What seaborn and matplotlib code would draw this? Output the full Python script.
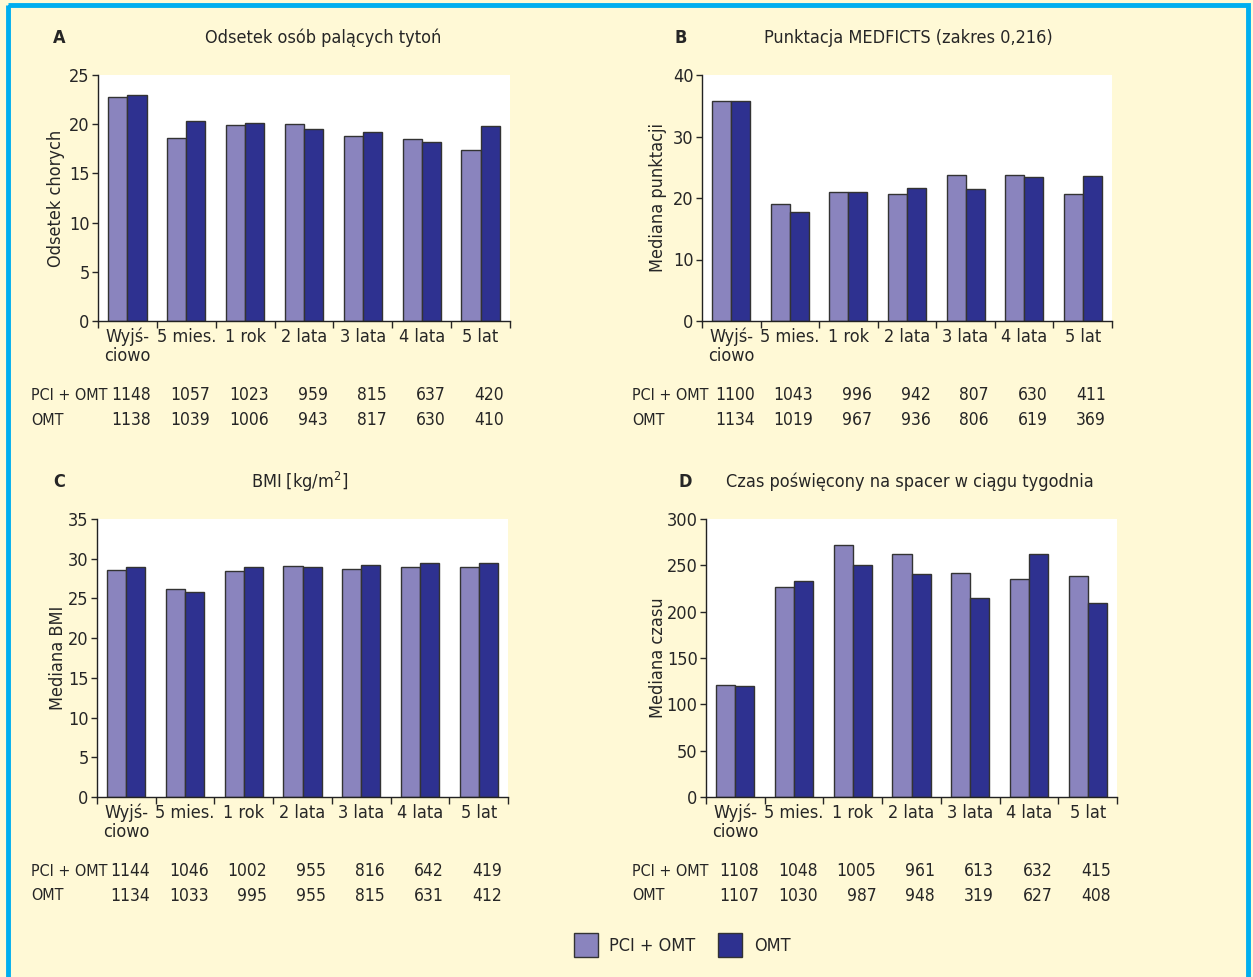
import numpy as np
import pandas as pd
import matplotlib
matplotlib.use("Agg")
import matplotlib.pyplot as plt
from matplotlib import font_manager
from matplotlib.patches import Rectangle
import seaborn as sns

# categories and groups
categories = ["Wyjś-\nciowo", "5 mies.", "1 rok", "2 lata", "3 lata", "4 lata", "5 lat"]
groups = ["PCI + OMT", "OMT"]

# A - smokers (%)
smoke_pci = [22.8, 18.6, 19.9, 20.0, 18.8, 18.5, 17.4]
smoke_omt = [23.0, 20.3, 20.1, 19.5, 19.2, 18.2, 19.8]
smoke_n_pci = [1148, 1057, 1023, 959, 815, 637, 420]
smoke_n_omt = [1138, 1039, 1006, 943, 817, 630, 410]

# B - MEDFICTS score
medf_pci = [35.7, 19.1, 20.9, 20.7, 23.8, 23.8, 20.6]
medf_omt = [35.7, 17.8, 21.0, 21.7, 21.4, 23.4, 23.5]
medf_n_pci = [1100, 1043, 996, 942, 807, 630, 411]
medf_n_omt = [1134, 1019, 967, 936, 806, 619, 369]

# C - BMI
bmi_pci = [28.6, 26.2, 28.5, 29.1, 28.7, 28.9, 28.9]
bmi_omt = [28.9, 25.8, 29.0, 29.0, 29.2, 29.4, 29.5]
bmi_n_pci = [1144, 1046, 1002, 955, 816, 642, 419]
bmi_n_omt = [1134, 1033, 995, 955, 815, 631, 412]

# D - walking time
walk_pci = [121, 227, 272, 262, 242, 235, 239]
walk_omt = [120, 233, 250, 241, 215, 262, 209]
walk_n_pci = [1108, 1048, 1005, 961, 613, 632, 415]
walk_n_omt = [1107, 1030, 987, 948, 319, 627, 408]

bg = "#FFF9D6"
col_pci = "#8A84BE"
col_omt = "#2E3190"
border = "#00AEEF"

sns.set_style("ticks")

# pick a narrow font if one is installed
names = {f.name for f in font_manager.fontManager.ttflist}
stretch = "normal"
if "Liberation Sans Narrow" in names:
    family = ["Liberation Sans Narrow", "DejaVu Sans"]
elif any(f.name == "DejaVu Sans" and f.stretch == "condensed" for f in font_manager.fontManager.ttflist):
    family = ["DejaVu Sans"]
    stretch = "condensed"
else:
    family = ["DejaVu Sans"]
plt.rcParams["font.family"] = family
plt.rcParams["font.stretch"] = stretch
fs = 13 if stretch != "normal" or family[0] != "DejaVu Sans" else 11.5

W, H = 1253, 977
fig = plt.figure(figsize=(W / 100, H / 100), dpi=100, facecolor=bg)


def px_axes(left, top, right, bottom):
    return fig.add_axes([left / W, 1 - bottom / H, (right - left) / W, (bottom - top) / H])


panels = [
    dict(letter="A", title="Odsetek osób palących tytoń", ylabel="Odsetek chorych",
         pci=smoke_pci, omt=smoke_omt, npci=smoke_n_pci, nomt=smoke_n_omt,
         ymax=25, step=5, box=(98, 75, 510, 321), lx=53, tx=323, ylx=56, rowx=31),
    dict(letter="B", title="Punktacja MEDFICTS (zakres 0,216)", ylabel="Mediana punktacji",
         pci=medf_pci, omt=medf_omt, npci=medf_n_pci, nomt=medf_n_omt,
         ymax=40, step=10, box=(702, 75, 1112, 321), lx=675, tx=908, ylx=658, rowx=632),
    dict(letter="C", title="BMI [kg/m$^2$]", ylabel="Mediana BMI",
         pci=bmi_pci, omt=bmi_omt, npci=bmi_n_pci, nomt=bmi_n_omt,
         ymax=35, step=5, box=(97, 519, 508, 797), lx=53, tx=300, ylx=58, rowx=31),
    dict(letter="D", title="Czas poświęcony na spacer w ciągu tygodnia", ylabel="Mediana czasu",
         pci=walk_pci, omt=walk_omt, npci=walk_n_pci, nomt=walk_n_omt,
         ymax=300, step=50, box=(706, 519, 1117, 797), lx=679, tx=910, ylx=658, rowx=632),
]

for p in panels:
    left, top, right, bottom = p["box"]
    ax = px_axes(left, top, right, bottom)
    df = pd.DataFrame({
        "cat": categories * 2,
        "grp": [groups[0]] * 7 + [groups[1]] * 7,
        "val": p["pci"] + p["omt"],
    })
    sns.barplot(data=df, x="cat", y="val", hue="grp", order=categories, hue_order=groups,
                palette=[col_pci, col_omt], saturation=1, width=0.65, gap=0,
                edgecolor="#333333", linewidth=1.0, legend=False, ax=ax)
    ax.set_facecolor("white")
    ax.set_xlim(-0.5, 6.5)
    ax.set_ylim(0, p["ymax"])
    ax.set_yticks(np.arange(0, p["ymax"] + 1, p["step"]))
    ax.set_xticks(np.arange(7))
    ax.set_xticklabels(categories, fontsize=fs, va="top", linespacing=1.05)
    ax.tick_params(axis="x", length=0, pad=5)
    ax.set_xticks(np.arange(-0.5, 7, 1), minor=True)
    ax.tick_params(axis="x", which="minor", length=5, width=1, direction="out")
    ax.tick_params(axis="y", labelsize=fs, length=4, width=1, pad=2)
    ax.set_xlabel("")
    ax.set_ylabel("")
    sns.despine(ax=ax, top=True, right=True)
    for s in ["left", "bottom"]:
        ax.spines[s].set_linewidth(1.0)
        ax.spines[s].set_color("#222222")

    fig.text(p["ylx"] / W, 1 - (top + bottom) / 2 / H, p["ylabel"], rotation=90,
             ha="center", va="center", fontsize=fs)
    fig.text(p["lx"] / W, 1 - (top - 37) / H, p["letter"], fontsize=fs,
             fontweight="bold", ha="left", va="center")
    fig.text(p["tx"] / W, 1 - (top - 37) / H, p["title"], fontsize=fs,
             ha="center", va="center")

    # counts table under the axis
    for row, (lab, vals) in enumerate([("PCI + OMT", p["npci"]), ("OMT", p["nomt"])]):
        ypx = bottom + 74 + row * 25
        fig.text(p["rowx"] / W, 1 - ypx / H, lab, fontsize=fs - 1.5, ha="left", va="center")
        for i, v in enumerate(vals):
            xfig = fig.transFigure.inverted().transform(ax.transData.transform((i + 0.4, 0)))[0]
            fig.text(xfig, 1 - ypx / H, str(v), fontsize=fs - 0.5, ha="right", va="center")

# legend at bottom
lax = fig.add_axes([0, 0, 1, 1], facecolor="none")
lax.set_xlim(0, W)
lax.set_ylim(H, 0)
lax.axis("off")
lax.add_patch(Rectangle((574, 933), 24, 24, facecolor=col_pci, edgecolor="#333333", lw=1))
lax.text(609, 946, "PCI + OMT", fontsize=fs, va="center", ha="left")
lax.add_patch(Rectangle((718, 933), 24, 24, facecolor=col_omt, edgecolor="#333333", lw=1))
lax.text(754, 946, "OMT", fontsize=fs, va="center", ha="left")

# blue frame
lax.add_patch(Rectangle((7.5, 4.5), W - 13, H + 10, facecolor="none", edgecolor=border, lw=3.5))

fig.savefig("out.png", dpi=100, facecolor=bg)
